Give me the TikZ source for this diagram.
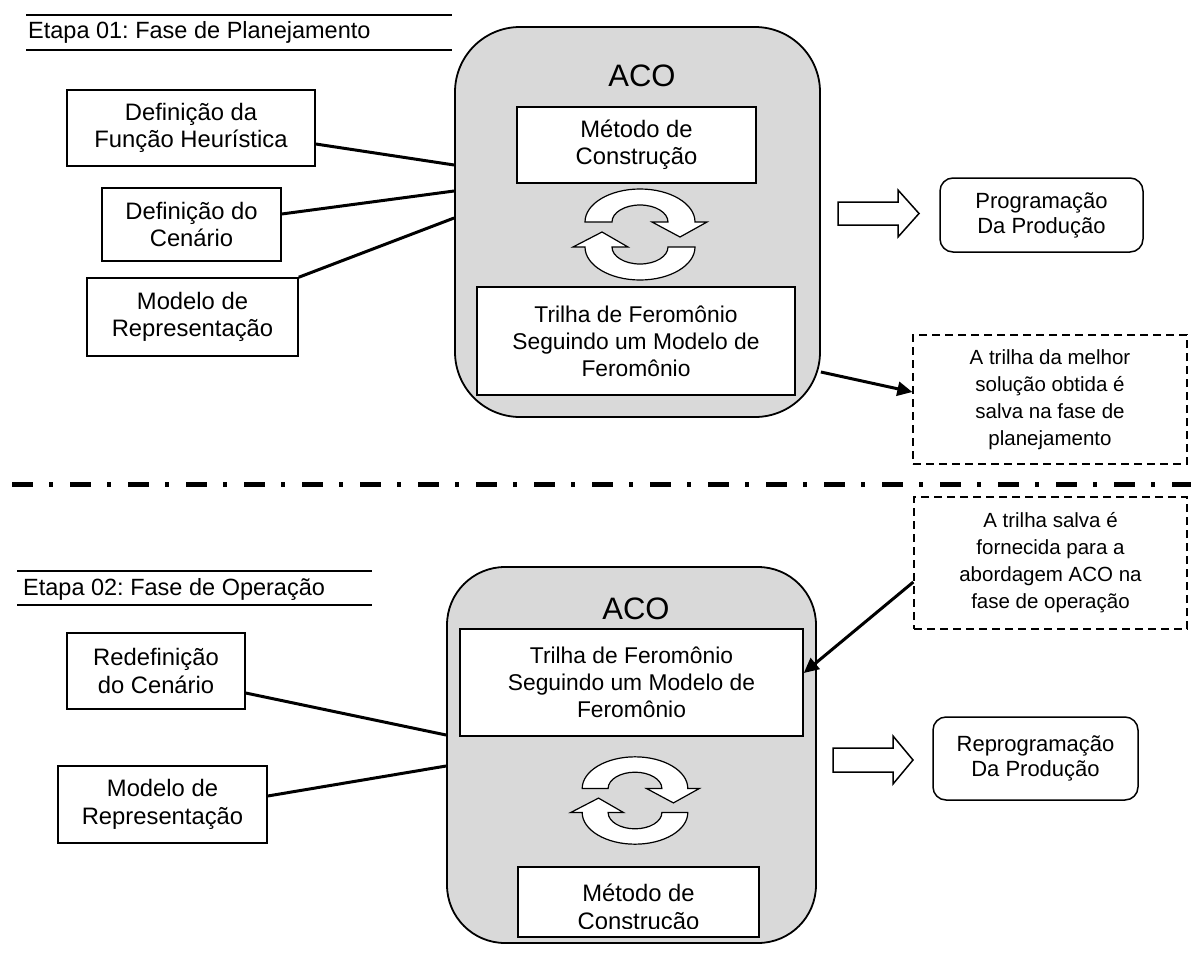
\documentclass[tikz,border=0pt]{standalone}
\usepackage{fontspec}
\setmainfont{Liberation Sans}
\usetikzlibrary{arrows.meta}
\definecolor{acocinza}{RGB}{217,217,217}
\frenchspacing

\tikzset{
  caixa/.style={draw, line width=1.5pt, fill=white, align=center, inner sep=0pt, font=\fontsize{23.8}{27.5}\selectfont},
  fase/.style={draw, line width=1.8pt, fill=acocinza, inner sep=0pt, rounded corners=#1},
  nota/.style={draw, dash pattern=on 8pt off 5pt, line width=1.3pt, align=center, inner sep=0pt, font=\fontsize{20.5}{27}\selectfont},
  saida/.style={caixa, rounded corners=13pt, font=\fontsize{22}{25}\selectfont},
  liga/.style={line width=3pt},
  seta/.style={line width=3pt, -{Triangle[length=15pt,width=14pt]}},
  bloco/.style={draw, line width=1.5pt, fill=white, line join=miter},
  titulo/.style={font=\fontsize{31}{36}\selectfont, inner sep=0pt},
  etapa/.style={font=\fontsize{23.5}{26}\selectfont, inner sep=0pt, anchor=base west},
  regua/.style={line width=2pt},
  ciclo/.pic={
    \draw[line width=1.2pt, fill=white] (-55,-12.5) arc[start angle=180, end angle=360, x radius=55, y radius=33]
      -- (67,-12.5) -- (40,2.5) -- (12,-12.5) -- (28,-12.5)
      arc[start angle=360, end angle=180, x radius=28, y radius=17] -- cycle;
    \draw[line width=1.2pt, fill=white] (55,12.5) arc[start angle=0, end angle=180, x radius=55, y radius=33]
      -- (-67,12.5) -- (-38,-2.5) -- (-12,12.5) -- (-28,12.5)
      arc[start angle=180, end angle=0, x radius=28, y radius=17] -- cycle;
  }
}

\begin{document}
\begin{tikzpicture}[x=1pt, y=-1pt]
\useasboundingbox (0,0) rectangle (1191,953);

% Etapa 01
\node[etapa] (etapa1) at (28,38) {Etapa 01: Fase de Planejamento};
\draw[regua] (26,15) -- (452,15);
\draw[regua] (26,50) -- (452,50);

\node[fase=65pt, minimum width=365pt, minimum height=390pt] (aco1) at (637.5,222) {};
\node[titulo] (acot1) at (642,76) {ACO};
\node[caixa, minimum width=239pt, minimum height=76pt] (metodo1) at (636.5,145) {Método de\\Construção};
\pic at (640,234.5) {ciclo};
\node[caixa, minimum width=318pt, minimum height=108pt, font=\fontsize{22.8}{27}\selectfont] (trilha1) at (636,341) {Trilha de Feromônio\\Seguindo um Modelo de\\Feromônio};

\node[caixa, minimum width=248pt, minimum height=76pt] (funcao) at (191,128) {Definição da\\Função Heurística};
\node[caixa, minimum width=179pt, minimum height=73pt] (cenario) at (191.5,224.5) {Definição do\\Cenário};
\node[caixa, minimum width=211pt, minimum height=78pt] (modelo1) at (192.5,317) {Modelo de\\Representação};

\draw[liga] ([yshift=-16pt]funcao.east) -- ([yshift=57pt]aco1.west);
\draw[liga] ([yshift=10.5pt]cenario.east) -- ([yshift=31pt]aco1.west);
\draw[liga] (modelo1.north east) -- ([yshift=4pt]aco1.west);

\draw[bloco] (838,202) -- (898,202) -- (898,190) -- (919,213.5) -- (898,237) -- (898,225) -- (838,225) -- cycle;
\node[saida, minimum width=203pt, minimum height=74pt] (prog) at (1041.5,215) {Programação\\Da Produção};

\node[nota, minimum width=274pt, minimum height=129pt] (nota1) at (1050,399.5) {A trilha da melhor\\solução obtida é\\salva na fase de\\planejamento};
\draw[seta] ([yshift=-150pt]aco1.east) -- ([yshift=7.5pt]nota1.west);

% separador
\draw[line width=5pt, dash pattern=on 21pt off 16pt on 4pt off 17pt] (12,484) -- (1191,484);

% Etapa 02
\node[etapa] (etapa2) at (23,595) {Etapa 02: Fase de Operação};
\draw[regua] (17,571) -- (372,571);
\draw[regua] (17,605) -- (372,605);

\node[fase=58pt, minimum width=369pt, minimum height=376pt] (aco2) at (631.5,755) {};
\node[titulo] (acot2) at (636,609) {ACO};
\node[caixa, minimum width=343pt, minimum height=107pt, font=\fontsize{22.8}{27}\selectfont] (trilha2) at (631.5,682.5) {Trilha de Feromônio\\Seguindo um Modelo de\\Feromônio};
\pic[scale=0.96] at (635,800.5) {ciclo};
\node[caixa, minimum width=241pt, minimum height=70pt] (metodo2) at (638.5,902) {};
\begin{scope}
  \clip ([yshift=9pt]metodo2.south west) rectangle (metodo2.north east);
  \node[caixa, draw=none, fill=none] (metodo2t) at (638.5,909) {Método de\\Construção};
\end{scope}

\node[caixa, minimum width=178pt, minimum height=76pt] (redef) at (156,671) {Redefinição\\do Cenário};
\node[caixa, minimum width=209pt, minimum height=77pt] (modelo2) at (162.5,804.5) {Modelo de\\Representação};

\draw[liga] ([yshift=-22pt]redef.east) -- ([yshift=20pt]aco2.west);
\draw[liga] ([yshift=8.5pt]modelo2.east) -- ([yshift=-11pt]aco2.west);

\draw[bloco] (833,748) -- (893,748) -- (893,736) -- (913,760) -- (893,784) -- (893,772) -- (833,772) -- cycle;
\node[saida, minimum width=205pt, minimum height=83pt] (reprog) at (1035.5,758.5) {Reprogramação\\Da Produção};

\node[nota, minimum width=273pt, minimum height=132pt] (nota2) at (1050.5,563) {A trilha salva é\\fornecida para a\\abordagem ACO na\\fase de operação};
\draw[seta] ([yshift=-19pt]nota2.west) -- ([yshift=9.5pt]trilha2.east);
\end{tikzpicture}
\end{document}
